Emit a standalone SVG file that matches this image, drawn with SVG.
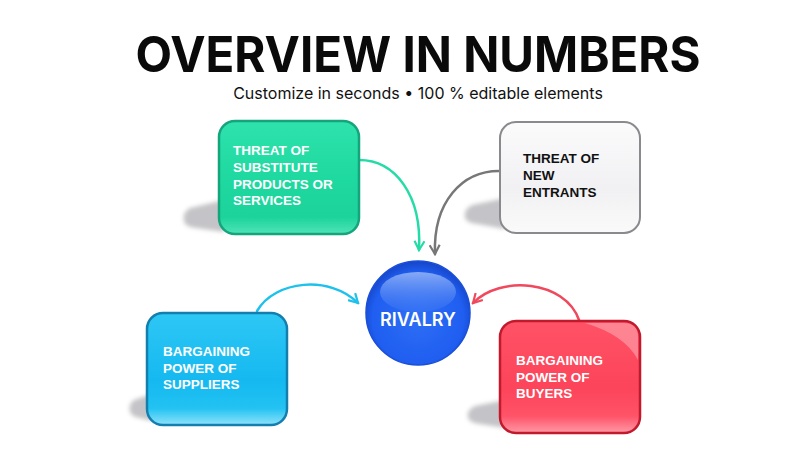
<svg xmlns="http://www.w3.org/2000/svg" width="800" height="450" viewBox="0 0 800 450">
<defs>
<style>
.title{font-family:Inter,"Liberation Sans",sans-serif;font-weight:700;font-size:50px;fill:#0a0a0a;text-anchor:middle}
.sub{font-family:Inter,"Liberation Sans",sans-serif;font-weight:400;font-size:16px;fill:#111;text-anchor:middle}
.lbl{font-family:"Liberation Sans",Arial,sans-serif;font-weight:700;font-size:13.5px}
.w{fill:#ffffff}
.k{fill:#111111}
.conn{fill:none;stroke-width:2.5;stroke-linecap:round}
.shadow{fill:#c4c4c8;filter:url(#blur)}
</style>
<filter id="blur" x="-20%" y="-20%" width="140%" height="140%"><feGaussianBlur stdDeviation="2"/></filter>
<linearGradient id="gGreen" x1="0" y1="0" x2="0" y2="1">
<stop offset="0" stop-color="#2fe2ad"/><stop offset="0.5" stop-color="#1ed9a0"/><stop offset="0.85" stop-color="#1cd39b"/><stop offset="1" stop-color="#4fe4b8"/>
</linearGradient>
<linearGradient id="gGray" x1="0" y1="0" x2="0" y2="1">
<stop offset="0" stop-color="#fbfbfc"/><stop offset="0.6" stop-color="#f1f1f3"/><stop offset="1" stop-color="#fafafa"/>
</linearGradient>
<linearGradient id="gBlue" x1="0" y1="0" x2="0" y2="1">
<stop offset="0" stop-color="#2ec7f5"/><stop offset="0.6" stop-color="#15b9f0"/><stop offset="0.85" stop-color="#22c2f2"/><stop offset="1" stop-color="#8fe2fb"/>
</linearGradient>
<linearGradient id="gRed" x1="0" y1="0" x2="0" y2="1">
<stop offset="0" stop-color="#ff5266"/><stop offset="0.6" stop-color="#fc445a"/><stop offset="0.85" stop-color="#ff5368"/><stop offset="1" stop-color="#ff9aa6"/>
</linearGradient>
<radialGradient id="gCircle" cx="0.5" cy="0.55" r="0.55">
<stop offset="0" stop-color="#2d6ef5"/><stop offset="0.8" stop-color="#1f5ef0"/><stop offset="1" stop-color="#1545c8"/>
</radialGradient>
<linearGradient id="gHi" x1="0" y1="0" x2="0" y2="1">
<stop offset="0" stop-color="#a9c3f8" stop-opacity="0.75"/><stop offset="1" stop-color="#5d8ef5" stop-opacity="0.15"/>
</linearGradient>
<marker id="aGreen" viewBox="0 0 12 12" refX="10" refY="6" markerWidth="12" markerHeight="12" markerUnits="userSpaceOnUse" orient="auto"><path d="M1,1 L10,6 L1,11" fill="none" stroke="#25dba7" stroke-width="2.2"/></marker>
<marker id="aGray" viewBox="0 0 12 12" refX="10" refY="6" markerWidth="12" markerHeight="12" markerUnits="userSpaceOnUse" orient="auto"><path d="M1,1 L10,6 L1,11" fill="none" stroke="#777777" stroke-width="2.2"/></marker>
<marker id="aBlue" viewBox="0 0 12 12" refX="10" refY="6" markerWidth="12" markerHeight="12" markerUnits="userSpaceOnUse" orient="auto"><path d="M1,1 L10,6 L1,11" fill="none" stroke="#1ec1ec" stroke-width="2.2"/></marker>
<marker id="aRed" viewBox="0 0 12 12" refX="10" refY="6" markerWidth="12" markerHeight="12" markerUnits="userSpaceOnUse" orient="auto"><path d="M1,1 L10,6 L1,11" fill="none" stroke="#f0485c" stroke-width="2.2"/></marker>
</defs>
<rect width="800" height="450" fill="#ffffff"/>
<text class="title" x="418" y="72" textLength="565" lengthAdjust="spacingAndGlyphs">OVERVIEW IN NUMBERS</text>
<text class="sub" x="418" y="99">Customize in seconds • 100 % editable elements</text>

<g id="connectors">
<path class="conn" stroke="#25dba7" d="M359,160 C395,160 422,195 419,250" marker-end="url(#aGreen)"/>
<path class="conn" stroke="#777777" d="M499,171 C462,171 433,202 435,254" marker-end="url(#aGray)"/>
<path class="conn" stroke="#1ec1ec" d="M257,311 C275,280 330,275 358,303" marker-end="url(#aBlue)"/>
<path class="conn" stroke="#f0485c" d="M579,320 C565,280 500,275 473,303" marker-end="url(#aRed)"/>
</g>

<g id="substitutes">
<path class="shadow" d="M224,200 L190,208 Q182,212 184,222 Q186,227 196,228 L224,232 Z"/>
<rect x="219" y="121" width="140" height="113" rx="16" fill="url(#gGreen)" stroke="#14a57c" stroke-width="2.5"/>
<text class="lbl w" x="233" y="155">THREAT OF</text>
<text class="lbl w" x="233" y="172">SUBSTITUTE</text>
<text class="lbl w" x="233" y="189">PRODUCTS OR</text>
<text class="lbl w" x="233" y="205">SERVICES</text>
</g>

<g id="entrants">
<path class="shadow" d="M505,198 L472,205 Q463,210 465,218 Q467,223 477,224 L505,229 Z"/>
<rect x="500" y="122" width="140" height="111" rx="16" fill="url(#gGray)" stroke="#8a8a8e" stroke-width="2"/>
<text class="lbl k" x="523" y="163">THREAT OF</text>
<text class="lbl k" x="523" y="180">NEW</text>
<text class="lbl k" x="523" y="197">ENTRANTS</text>
</g>

<g id="suppliers">
<path class="shadow" d="M152,394 L134,400 Q128,404 130,412 Q132,417 140,418 L152,421 Z"/>
<rect x="147" y="313" width="140" height="112" rx="16" fill="url(#gBlue)" stroke="#137fae" stroke-width="2.5"/>
<text class="lbl w" x="163" y="356">BARGAINING</text>
<text class="lbl w" x="163" y="373">POWER OF</text>
<text class="lbl w" x="163" y="389">SUPPLIERS</text>
</g>

<g id="buyers">
<path class="shadow" d="M505,400 L475,406 Q466,410 468,418 Q470,423 480,424 L505,428 Z"/>
<rect x="500" y="321" width="140" height="112" rx="16" fill="url(#gRed)" stroke="#c2192d" stroke-width="2.5"/>
<path d="M585,323 L624,323 Q638,323 638,337 L638,360 Q625,335 585,323 Z" fill="#ffffff" opacity="0.3"/>
<text class="lbl w" x="516" y="365">BARGAINING</text>
<text class="lbl w" x="516" y="382">POWER OF</text>
<text class="lbl w" x="516" y="398">BUYERS</text>
</g>

<g id="rivalry">
<circle cx="418" cy="313" r="52" fill="url(#gCircle)" stroke="#1a4fd8" stroke-width="1.5"/>
<ellipse cx="418" cy="292" rx="38" ry="20" fill="url(#gHi)"/>
<text x="418" y="326" text-anchor="middle" font-family="Inter,'Liberation Sans',sans-serif" font-weight="600" font-size="18" fill="#ffffff">RIVALRY</text>
</g>
</svg>
